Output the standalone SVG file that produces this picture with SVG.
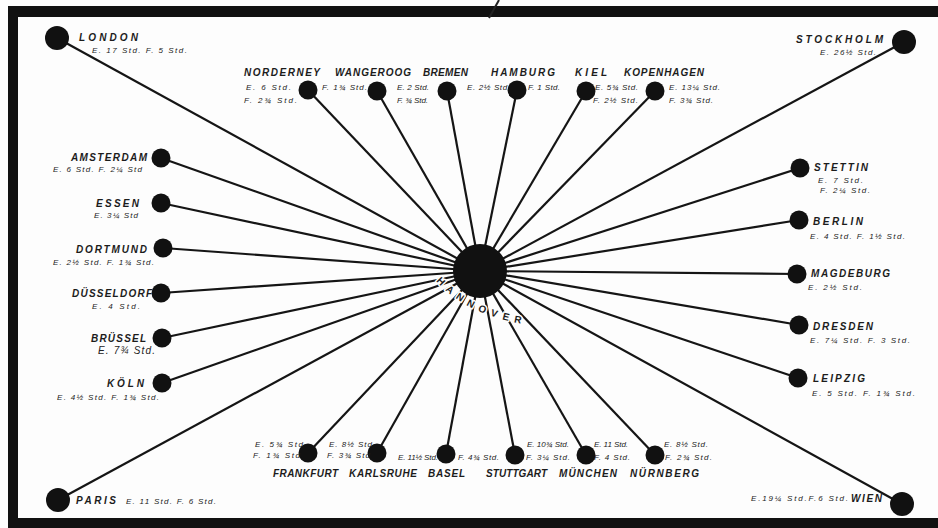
<svg xmlns="http://www.w3.org/2000/svg" width="938" height="528" viewBox="0 0 938 528">
<style>
.n{font-family:"Liberation Sans","DejaVu Sans",sans-serif;font-weight:bold;font-style:italic;font-size:10px;fill:#1c1c1c}
.t{font-family:"Liberation Sans","DejaVu Sans",sans-serif;font-style:italic;font-size:8px;fill:#222}
.c{fill:#111}
.l{stroke:#151515;stroke-width:2.2;fill:none}
.h{font-family:"Liberation Sans","DejaVu Sans",sans-serif;font-weight:bold;font-size:10px;fill:#1c1c1c;stroke:#fdfdfd;stroke-width:3;paint-order:stroke;stroke-linejoin:round}
</style>
<rect x="0" y="0" width="938" height="528" fill="#fdfdfd"/>
<g id="frame" fill="#111">
<rect x="8" y="6" width="930" height="11"/>
<rect x="8" y="6" width="10" height="522"/>
<rect x="8" y="518" width="930" height="10"/>
<line x1="499" y1="0" x2="489" y2="18" stroke="#222" stroke-width="2"/>
</g>
<g id="connectors" class="l">
<line x1="57" y1="38" x2="480" y2="271"/>
<line x1="904" y1="42" x2="480" y2="271"/>
<line x1="58" y1="500" x2="480" y2="271"/>
<line x1="902" y1="504" x2="480" y2="271"/>
<line x1="308" y1="90" x2="480" y2="271"/>
<line x1="377" y1="91" x2="480" y2="271"/>
<line x1="447" y1="91" x2="480" y2="271"/>
<line x1="517" y1="90" x2="480" y2="271"/>
<line x1="586" y1="91" x2="480" y2="271"/>
<line x1="655" y1="91" x2="480" y2="271"/>
<line x1="161" y1="158" x2="480" y2="271"/>
<line x1="161" y1="203" x2="480" y2="271"/>
<line x1="163" y1="248" x2="480" y2="271"/>
<line x1="161" y1="293" x2="480" y2="271"/>
<line x1="162" y1="338" x2="480" y2="271"/>
<line x1="162" y1="383" x2="480" y2="271"/>
<line x1="800" y1="168" x2="480" y2="271"/>
<line x1="799" y1="220" x2="480" y2="271"/>
<line x1="797" y1="274" x2="480" y2="271"/>
<line x1="799" y1="325" x2="480" y2="271"/>
<line x1="798" y1="378" x2="480" y2="271"/>
<line x1="308" y1="453" x2="480" y2="271"/>
<line x1="377" y1="453" x2="480" y2="271"/>
<line x1="446" y1="454" x2="480" y2="271"/>
<line x1="515" y1="455" x2="480" y2="271"/>
<line x1="586" y1="455" x2="480" y2="271"/>
<line x1="655" y1="455" x2="480" y2="271"/>
</g>
<defs>
<path id="hp" d="M436,281 Q467,316 530,325"/>
</defs>
<g id="hannover">
<circle class="c" cx="480" cy="271" r="27"/>
<text class="h"><textPath href="#hp" textLength="97" lengthAdjust="spacing">HANNOVER</textPath></text>
</g>
<g id="london"><circle class="c" cx="57" cy="38" r="12"/>
<text class="n" x="79" y="41" textLength="59">LONDON</text>
<text class="t" x="92" y="53" textLength="95">E. 17 Std.  F. 5 Std.</text></g>
<g id="stockholm"><circle class="c" cx="904" cy="42" r="12"/>
<text class="n" x="796" y="43" textLength="87">STOCKHOLM</text>
<text class="t" x="820" y="55" textLength="56">E. 26½ Std.</text></g>
<g id="paris"><circle class="c" cx="58" cy="500" r="12"/>
<text class="n" x="76" y="504" textLength="40">PARIS</text>
<text class="t" x="126" y="504" textLength="90">E. 11 Std. F. 6 Std.</text></g>
<g id="wien"><circle class="c" cx="902" cy="504" r="12"/>
<text class="t" x="751" y="501" textLength="97">E.19¼ Std.F.6 Std.</text>
<text class="n" x="851" y="502" textLength="31">WIEN</text></g>

<g id="norderney"><circle class="c" cx="308" cy="90" r="9.5"/>
<text class="n" x="244" y="76" textLength="76">NORDERNEY</text>
<text class="t" x="246" y="90" textLength="45">E. 6 Std.</text>
<text class="t" x="244" y="103" textLength="53">F. 2¾ Std.</text></g>
<g id="wangeroog"><circle class="c" cx="377" cy="91" r="9.5"/>
<text class="n" x="335" y="76" textLength="76">WANGEROOG</text>
<text class="t" x="322" y="90" textLength="45">F. 1¾ Std.</text></g>
<g id="bremen"><circle class="c" cx="447" cy="91" r="9.5"/>
<text class="n" x="423" y="76" textLength="45">BREMEN</text>
<text class="t" x="397" y="90" textLength="32">E. 2 Std.</text>
<text class="t" x="397" y="103" textLength="31">F. ¾ Std.</text></g>
<g id="hamburg"><circle class="c" cx="517" cy="90" r="9.5"/>
<text class="n" x="491" y="76" textLength="64">HAMBURG</text>
<text class="t" x="467" y="90" textLength="43">E. 2½ Std.</text>
<text class="t" x="528" y="90" textLength="32">F. 1 Std.</text></g>
<g id="kiel"><circle class="c" cx="586" cy="91" r="9.5"/>
<text class="n" x="575" y="76" textLength="32">KIEL</text>
<text class="t" x="595" y="90" textLength="43">E. 5¾ Std.</text>
<text class="t" x="593" y="103" textLength="45">F. 2½ Std.</text></g>
<g id="kopenhagen"><circle class="c" cx="655" cy="91" r="9.5"/>
<text class="n" x="624" y="76" textLength="80">KOPENHAGEN</text>
<text class="t" x="669" y="90" textLength="51">E. 13¼ Std.</text>
<text class="t" x="669" y="103" textLength="44">F. 3¾ Std.</text></g>

<g id="amsterdam"><circle class="c" cx="161" cy="158" r="9.5"/>
<text class="n" x="71" y="161" textLength="76">AMSTERDAM</text>
<text class="t" x="53" y="172" textLength="89">E. 6 Std. F. 2¼ Std</text></g>
<g id="essen"><circle class="c" cx="161" cy="203" r="9.5"/>
<text class="n" x="96" y="206.5" textLength="43">ESSEN</text>
<text class="t" x="94" y="218" textLength="44">E. 3¼ Std</text></g>
<g id="dortmund"><circle class="c" cx="163" cy="248" r="9.5"/>
<text class="n" x="76" y="252.5" textLength="71">DORTMUND</text>
<text class="t" x="53" y="264.5" textLength="101">E. 2½ Std. F. 1¾ Std.</text></g>
<g id="duesseldorf"><circle class="c" cx="161" cy="293" r="9.5"/>
<text class="n" x="72" y="297" textLength="80">DÜSSELDORF</text>
<text class="t" x="92" y="309" textLength="48">E.  4 Std.</text></g>
<g id="bruessel"><circle class="c" cx="162" cy="338" r="9.5"/>
<text class="n" x="91" y="342" textLength="55">BRÜSSEL</text>
<text class="t" x="98" y="354" textLength="57" style="font-size:10px">E. 7¾ Std.</text></g>
<g id="koeln"><circle class="c" cx="162" cy="383" r="9.5"/>
<text class="n" x="107" y="387" textLength="37">KÖLN</text>
<text class="t" x="57" y="400" textLength="102">E. 4½ Std. F. 1¾ Std.</text></g>

<g id="stettin"><circle class="c" cx="800" cy="168" r="9.5"/>
<text class="n" x="814" y="171" textLength="54">STETTIN</text>
<text class="t" x="818" y="183" textLength="45">E. 7 Std.</text>
<text class="t" x="820" y="193" textLength="50">F. 2¼ Std.</text></g>
<g id="berlin"><circle class="c" cx="799" cy="220" r="9.5"/>
<text class="n" x="813" y="225" textLength="50">BERLIN</text>
<text class="t" x="810" y="238.5" textLength="95">E. 4 Std. F. 1½ Std.</text></g>
<g id="magdeburg"><circle class="c" cx="797" cy="274" r="9.5"/>
<text class="n" x="811" y="277" textLength="79">MAGDEBURG</text>
<text class="t" x="808" y="290" textLength="54">E. 2½ Std.</text></g>
<g id="dresden"><circle class="c" cx="799" cy="325" r="9.5"/>
<text class="n" x="813" y="330" textLength="60">DRESDEN</text>
<text class="t" x="810" y="343" textLength="100">E. 7¼ Std. F. 3 Std.</text></g>
<g id="leipzig"><circle class="c" cx="798" cy="378" r="9.5"/>
<text class="n" x="813" y="382" textLength="52">LEIPZIG</text>
<text class="t" x="812" y="396" textLength="103">E. 5 Std. F. 1¾ Std.</text></g>

<g id="frankfurt"><circle class="c" cx="308" cy="453" r="9.5"/>
<text class="t" x="255" y="446.5" textLength="48">E. 5¾ Std</text>
<text class="t" x="253" y="458" textLength="47">F. 1¾ Std</text>
<text class="n" x="273" y="476.5" textLength="65">FRANKFURT</text></g>
<g id="karlsruhe"><circle class="c" cx="377" cy="453" r="9.5"/>
<text class="t" x="329" y="446.5" textLength="43">E. 8½ Std</text>
<text class="t" x="327" y="458" textLength="43">F. 3¾ Std</text>
<text class="n" x="349" y="476.5" textLength="68">KARLSRUHE</text></g>
<g id="basel"><circle class="c" cx="446" cy="454" r="9.5"/>
<text class="t" x="398" y="460" textLength="40">E. 11½ Std.</text>
<text class="t" x="458" y="460" textLength="41">F. 4¾ Std.</text>
<text class="n" x="428" y="476.5" textLength="37">BASEL</text></g>
<g id="stuttgart"><circle class="c" cx="515" cy="455" r="9.5"/>
<text class="t" x="527" y="447" textLength="42">E. 10¾ Std.</text>
<text class="t" x="526" y="460" textLength="44">F. 3¼ Std.</text>
<text class="n" x="486" y="477" textLength="61">STUTTGART</text></g>
<g id="muenchen"><circle class="c" cx="586" cy="455" r="9.5"/>
<text class="t" x="594" y="447" textLength="34">E. 11 Std.</text>
<text class="t" x="594" y="460" textLength="36">F. 4 Std.</text>
<text class="n" x="559" y="477" textLength="58">MÜNCHEN</text></g>
<g id="nuernberg"><circle class="c" cx="655" cy="455" r="9.5"/>
<text class="t" x="664" y="447" textLength="44">E. 8½ Std.</text>
<text class="t" x="665" y="460" textLength="47">F. 2¾ Std.</text>
<text class="n" x="630" y="477" textLength="69">NÜRNBERG</text></g>
</svg>
